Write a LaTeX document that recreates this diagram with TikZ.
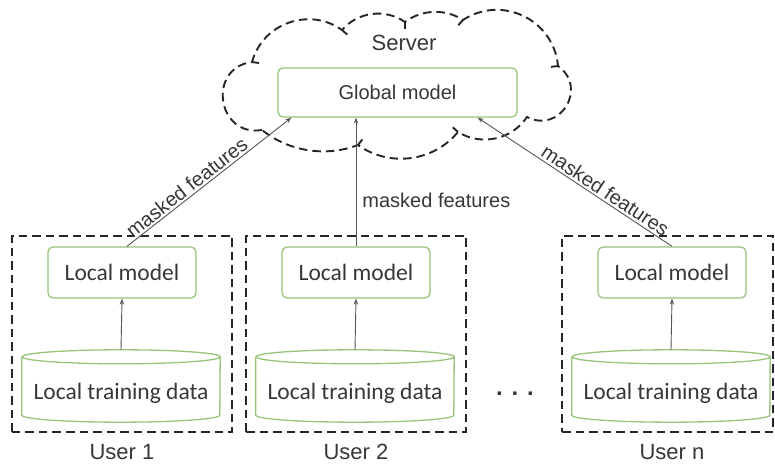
\documentclass[tikz,border=0pt]{standalone}
\usepackage{fontspec}
\usetikzlibrary{arrows.meta,calc}
\newfontfamily\arialfont{Liberation Sans}
\newfontfamily\calibfont{Carlito}
\definecolor{boxgreen}{RGB}{150,196,120}
\definecolor{inkgray}{RGB}{55,55,55}
\definecolor{linegray}{RGB}{85,85,85}
\tikzset{
  x=1bp, y=1bp,
  dashbox/.style={draw=black!85, line width=1.9bp, dash pattern=on 8.5bp off 5bp},
  modelbox/.style={draw=boxgreen, line width=1.3bp, rounded corners=5bp, fill=white,
    text=inkgray, inner sep=0pt},
  modelline/.style={draw=boxgreen, line width=1.3bp},
  arr/.style={draw=linegray, line width=0.9bp, -{Stealth[length=6bp,width=4.5bp]}},
  lbl/.style={text=inkgray, font=\arialfont\fontsize{20bp}{24bp}\selectfont, inner sep=2bp},
  userlbl/.style={text=inkgray, font=\arialfont\fontsize{22bp}{26bp}\selectfont},
  localfont/.style={font=\calibfont\fontsize{23.5bp}{27bp}\selectfont},
  datafont/.style={font=\calibfont\fontsize{23.5bp}{27bp}\selectfont, text=inkgray},
}
\begin{document}
\begin{tikzpicture}
\useasboundingbox (0,0) rectangle (775,470);

% server cloud: puffs joined at J1..J9
\coordinate (J1) at (262,340);
\coordinate (J2) at (252,408);
\coordinate (J3) at (342,440);
\coordinate (J4) at (405,448);
\coordinate (J5) at (463,450);
\coordinate (J6) at (558,404);
\coordinate (J7) at (527,353);
\coordinate (J8) at (458,338);
\coordinate (J9) at (358,325);
\coordinate (cc) at (405,385);
\draw[dashbox]
  (J1) to[bend left=91, looseness=1.7] (J2)
       to[bend left=55, looseness=1.08] (J3)
       to[bend left=42, looseness=0.97] (J4)
       to[bend left=35, looseness=0.93] (J5)
       to[bend left=59, looseness=1.13] (J6)
       to[bend left=86, looseness=1.6] (J7)
       to[bend left=44, looseness=0.99] (J8)
       to[bend left=43, looseness=0.98] (J9)
       to[bend left=30, looseness=0.9] (J1);
% small inward hooks where the puffs meet
\foreach \j in {J2,J3,J4,J5,J6,J8,J9}{
  \draw[draw=black!85, line width=1.9bp] (\j) -- ($(\j)!7bp!(cc)$);
}

\node[text=inkgray, font=\arialfont\fontsize{22bp}{26bp}\selectfont] (server) at (404,427) {Server};
\node[modelbox, minimum width=239bp, minimum height=49bp,
      font=\arialfont\fontsize{20bp}{24bp}\selectfont] (g) at (397.5,377.5) {Global model};

% user frames
\node[dashbox, minimum width=220bp, minimum height=196bp, inner sep=0pt] (u1) at (122,136) {};
\node[dashbox, minimum width=220bp, minimum height=196bp, inner sep=0pt] (u2) at (356,136) {};
\node[dashbox, minimum width=211bp, minimum height=196bp, inner sep=0pt] (un) at (667.5,136) {};

% local models
\node[modelbox, localfont, minimum width=148bp, minimum height=51bp] (l1) at (122,197.5) {Local model};
\node[modelbox, localfont, minimum width=148bp, minimum height=51bp] (l2) at (356,197.5) {Local model};
\node[modelbox, localfont, minimum width=148bp, minimum height=51bp] (ln) at (672,197.5) {Local model};

% local training data (cylinders)
\node[datafont, minimum width=198bp, minimum height=44bp, inner sep=0pt] (d1) at (121,77) {Local training data};
\node[datafont, minimum width=198bp, minimum height=44bp, inner sep=0pt] (d2) at (355,77) {Local training data};
\node[datafont, minimum width=198bp, minimum height=44bp, inner sep=0pt] (dn) at (671,77) {Local training data};
\foreach \n in {d1,d2,dn}{
  \draw[modelline] ([yshift=14bp]\n.north west) -- (\n.south west)
    arc[start angle=180, end angle=360, x radius=99bp, y radius=7bp]
    -- ([yshift=14bp]\n.north east)
    arc[start angle=0, end angle=360, x radius=99bp, y radius=7bp];
}
\coordinate (t1) at ([yshift=21bp]d1.north);
\coordinate (t2) at ([yshift=21bp]d2.north);
\coordinate (tn) at ([yshift=21bp]dn.north);

% data to local model
\draw[arr] (t1) -- (l1.south);
\draw[arr] (t2) -- (l2.south);
\draw[arr] (tn) -- (ln.south);

% local model to global model
\draw[arr] ([xshift=5bp]l1.north) -- node[lbl, sloped, above, pos=0.4] {masked features} ([xshift=14bp]g.south west);
\draw[arr] (l2.north) -- node[lbl, right, pos=0.36, xshift=4bp] {masked features} (l2.north |- g.south);
\draw[arr] (ln.north) -- node[lbl, sloped, above, pos=0.37] {masked features} ([xshift=-40bp]g.south east);

% user labels and ellipsis
\node[userlbl] (n1) at (122,18) {User 1};
\node[userlbl] (n2) at (356,18) {User 2};
\node[userlbl] (nn) at (672,18) {User n};
\node[text=inkgray, font=\arialfont\bfseries\fontsize{24bp}{30bp}\selectfont, anchor=base] (dots) at (515,74) {. . .};
\end{tikzpicture}
\end{document}
